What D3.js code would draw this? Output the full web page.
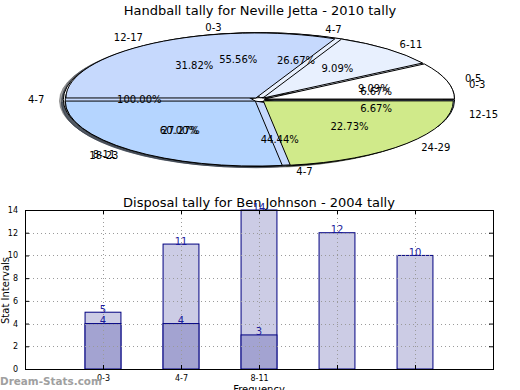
<!DOCTYPE html>
<html>
<head>
<meta charset="utf-8">
<script src="https://cdn.jsdelivr.net/npm/d3@7/dist/d3.min.js"></script>
<style>
  html, body { margin: 0; padding: 0; background: #ffffff; }
  svg { display: block; font-family: "DejaVu Sans", sans-serif; }
</style>
</head>
<body>
<svg id="chart" width="520" height="390"></svg>
<script>
// ---------- DATA ----------
const pieTitle = "Handball tally for Neville Jetta - 2010 tally";
const pie1Labels = ["4-7"];
const pie1Values = [1];
const pie2Labels = ["0-3", "4-7"];
const pie2Values = [5, 4];
const pie3Labels = ["0-3", "4-7", "8-11", "12-15"];
const pie3Values = [1, 4, 9, 1];
const pie4Labels = ["0-5", "6-11", "12-17", "18-23", "24-29"];
const pie4Values = [2, 2, 7, 6, 5];
const pieColors = ["#ffffff", "#e8f0fe", "#c6d9fd", "#b5d5ff", "#d0ea8a"];

const barTitle = "Disposal tally for Ben Johnson - 2004 tally";
const barPositions = [1, 2, 3, 4, 5];
const backValues = [5, 11, 14, 12, 10];
const frontValues = [4, 4, 3];
const xTickLabels = ["0-3", "4-7", "8-11"];
const yTicks = [0, 2, 4, 6, 8, 10, 12, 14];
const xLabel = "Frequency";
const yLabel = "Stat Intervals";
const watermark = "Dream-Stats.com";

(function () {
const svg = d3.select("#chart");

// ---------- PIE ----------
const cx = 259, cy = 99.6, rx = 190, ry = 65, explode = 0.03;
const sy = ry / rx;

svg.append("text")
  .attr("x", 260).attr("y", 15)
  .attr("text-anchor", "middle")
  .attr("font-size", 13)
  .attr("fill", "#000")
  .text(pieTitle);

const pieGen = d3.pie().sort(null).value(d => d)
  .startAngle(Math.PI / 2).endAngle(Math.PI / 2 - 2 * Math.PI);
const arcGen = d3.arc().innerRadius(0).outerRadius(rx);

const pies = [
  { labels: pie1Labels, values: pie1Values },
  { labels: pie2Labels, values: pie2Values },
  { labels: pie3Labels, values: pie3Values },
  { labels: pie4Labels, values: pie4Values }
];

const shadowLayer = svg.append("g").attr("transform", `translate(${cx},${cy}) scale(1,${sy})`);
const wedgeLayer = svg.append("g").attr("transform", `translate(${cx},${cy}) scale(1,${sy})`);
const textLayer = svg.append("g");

function darker(c) {
  const col = d3.rgb(c);
  return d3.rgb(col.r * 0.3, col.g * 0.3, col.b * 0.3).toString();
}

pies.forEach(p => {
  const arcs = pieGen(p.values);
  const total = d3.sum(p.values);
  arcs.forEach((a, i) => {
    const mid = (a.startAngle + a.endAngle) / 2;
    const ox = Math.sin(mid) * explode * rx;
    const oy = -Math.cos(mid) * explode * rx;
    const col = pieColors[i % pieColors.length];
    shadowLayer.append("path")
      .attr("d", arcGen(a))
      .attr("transform", `translate(${ox - 0.02 * rx},${oy + 0.02 * rx})`)
      .attr("fill", darker(col))
      .attr("fill-opacity", 0.5)
      .attr("stroke", darker(col))
      .attr("stroke-opacity", 0.5)
      .attr("vector-effect", "non-scaling-stroke");
    wedgeLayer.append("path")
      .attr("d", arcGen(a))
      .attr("transform", `translate(${ox},${oy})`)
      .attr("fill", col)
      .attr("stroke", "#000")
      .attr("stroke-width", 1)
      .attr("stroke-linejoin", "round")
      .attr("vector-effect", "non-scaling-stroke");
    const lk = 1.1 + explode;
    const lx = cx + lk * rx * Math.sin(mid);
    const ly = cy - lk * ry * Math.cos(mid);
    textLayer.append("text")
      .attr("x", lx).attr("y", ly)
      .attr("text-anchor", Math.sin(mid) > 0 ? "start" : "end")
      .attr("dominant-baseline", "central")
      .attr("font-size", 10)
      .attr("fill", "#000")
      .text(p.labels[i]);
    const pk = 0.6 + explode;
    const px = cx + pk * rx * Math.sin(mid);
    const py = cy - pk * ry * Math.cos(mid);
    textLayer.append("text")
      .attr("x", px).attr("y", py)
      .attr("text-anchor", "middle")
      .attr("dominant-baseline", "central")
      .attr("font-size", 10)
      .attr("fill", "#000")
      .text((p.values[i] / total * 100).toFixed(2) + "%");
  });
});

// ---------- BAR CHART ----------
const pl = 25, pr = 493, pt = 210, pb = 369;
const x = d3.scaleLinear().domain([0, 6]).range([pl, pr]);
const y = d3.scaleLinear().domain([0, 14]).range([pb, pt]);
const barW = 0.46;

svg.append("text")
  .attr("x", 259).attr("y", 207)
  .attr("text-anchor", "middle")
  .attr("font-size", 13)
  .attr("fill", "#000")
  .text(barTitle);

const bars = svg.append("g");
bars.selectAll("rect.back").data(backValues).join("rect")
  .attr("class", "back")
  .attr("x", (d, i) => x(barPositions[i] - barW / 2))
  .attr("y", d => y(d))
  .attr("width", x(barW) - x(0))
  .attr("height", d => y(0) - y(d))
  .attr("fill", "#cccce5")
  .attr("stroke", "#000080")
  .attr("stroke-width", 1);
bars.selectAll("rect.front").data(frontValues).join("rect")
  .attr("class", "front")
  .attr("x", (d, i) => x(barPositions[i] - barW / 2))
  .attr("y", d => y(d))
  .attr("width", x(barW) - x(0))
  .attr("height", d => y(0) - y(d))
  .attr("fill", "#a3a3d1")
  .attr("stroke", "#000080")
  .attr("stroke-width", 1);

const grid = svg.append("g").attr("stroke", "#9a9a9a").attr("stroke-dasharray", "1,3").attr("stroke-width", 1);
yTicks.slice(1, -1).forEach(t => {
  grid.append("line").attr("x1", pl).attr("x2", pr)
    .attr("y1", Math.round(y(t)) + 0.5).attr("y2", Math.round(y(t)) + 0.5);
});
barPositions.forEach(t => {
  grid.append("line").attr("y1", pt).attr("y2", pb)
    .attr("x1", Math.round(x(t)) + 0.5).attr("x2", Math.round(x(t)) + 0.5);
});

const vlab = svg.append("g").attr("font-size", 10).attr("fill", "#1c1c9c").attr("text-anchor", "middle");
backValues.forEach((v, i) => {
  vlab.append("text").attr("x", x(barPositions[i])).attr("y", y(v) + 0.5).text(v);
});
frontValues.forEach((v, i) => {
  vlab.append("text").attr("x", x(barPositions[i])).attr("y", y(v) + 0.5).text(v);
});

const yAxisL = d3.axisLeft(y).tickValues(yTicks).tickSizeInner(-4).tickSizeOuter(0).tickPadding(7);
const gY = svg.append("g").attr("transform", `translate(${pl},0)`).call(yAxisL);
gY.selectAll("text").attr("font-size", 8).attr("font-family", "DejaVu Sans").attr("fill", "#000");
gY.select(".domain").remove();
const yAxisR = d3.axisRight(y).tickValues(yTicks).tickSizeInner(-4).tickSizeOuter(0).tickFormat("");
const gYR = svg.append("g").attr("transform", `translate(${pr},0)`).call(yAxisR);
gYR.select(".domain").remove();

const xAxisB = d3.axisBottom(x).tickValues(barPositions).tickSizeInner(-4).tickSizeOuter(0).tickPadding(6)
  .tickFormat((d, i) => xTickLabels[i] || "");
const gX = svg.append("g").attr("transform", `translate(0,${pb})`).call(xAxisB);
gX.selectAll("text").attr("font-size", 8).attr("font-family", "DejaVu Sans").attr("fill", "#000");
gX.select(".domain").remove();
const xAxisT = d3.axisTop(x).tickValues(barPositions).tickSizeInner(-4).tickSizeOuter(0).tickFormat("");
const gXT = svg.append("g").attr("transform", `translate(0,${pt})`).call(xAxisT);
gXT.select(".domain").remove();

svg.append("rect")
  .attr("x", pl + 0.5).attr("y", pt + 0.5)
  .attr("width", pr - pl).attr("height", pb - pt)
  .attr("fill", "none").attr("stroke", "#000").attr("stroke-width", 1);

svg.append("text")
  .attr("transform", `translate(5,${(pt + pb) / 2 + 1}) rotate(-90)`)
  .attr("text-anchor", "middle").attr("dominant-baseline", "central")
  .attr("font-size", 10).attr("fill", "#000")
  .text(yLabel);

svg.append("text")
  .attr("x", 259).attr("y", 393)
  .attr("text-anchor", "middle")
  .attr("font-size", 10).attr("fill", "#000")
  .text(xLabel);

const wm = svg.append("text")
  .attr("x", 0).attr("y", 385)
  .attr("font-size", 12).attr("font-weight", "bold")
  .attr("fill", "#a0a0a0")
  .text(watermark);
const wmLen = wm.node().getComputedTextLength();
if (wmLen > 0) wm.attr("font-size", 12 * 102 / wmLen);
})();
</script>
</body>
</html>
